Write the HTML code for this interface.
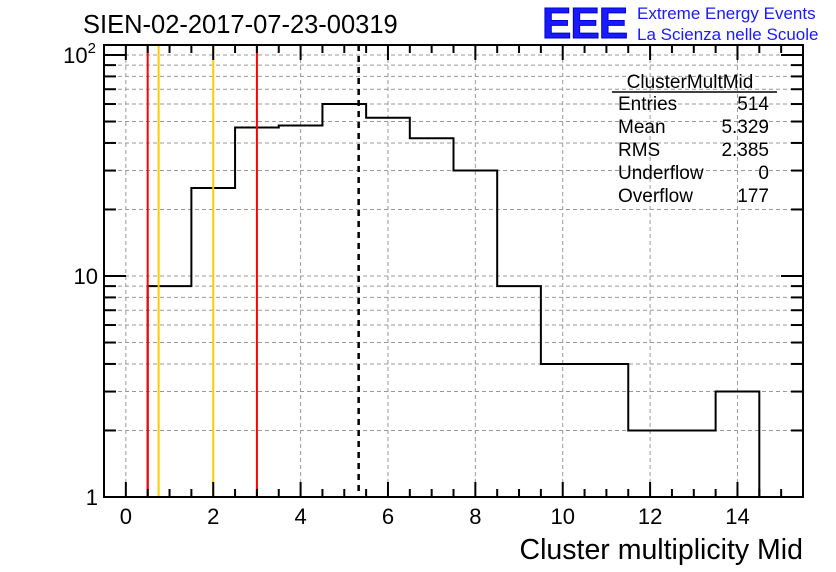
<!DOCTYPE html>
<html><head><meta charset="utf-8"><style>
body{margin:0;background:#fff;}
svg{display:block;font-family:"Liberation Sans",sans-serif;}
</style></head><body>
<svg id="c" width="836" height="572">
<text x="83" y="33" font-size="25.5">SIEN-02-2017-07-23-00319</text>
<text x="542" y="38" font-size="44" font-weight="bold" fill="#1a1aff" stroke="#0000cc" stroke-width="1" letter-spacing="-1">EEE</text>
<text x="637" y="19" font-size="17" fill="#1a1aff">Extreme Energy Events</text>
<text x="637" y="40" font-size="17" fill="#1a1aff">La Scienza nelle Scuole</text>
<g id="grid"></g><g id="marks"></g><g id="axes"></g>
<g font-size="19">
<text x="690" y="88" text-anchor="middle">ClusterMultMid</text>
<line x1="612" y1="92" x2="777" y2="92" stroke="#000" stroke-width="1.5"/>
<text x="618" y="110">Entries</text><text x="769" y="110" text-anchor="end">514</text>
<text x="618" y="133">Mean</text><text x="769" y="133" text-anchor="end">5.329</text>
<text x="618" y="156">RMS</text><text x="769" y="156" text-anchor="end">2.385</text>
<text x="618" y="179">Underflow</text><text x="769" y="179" text-anchor="end">0</text>
<text x="618" y="202">Overflow</text><text x="769" y="202" text-anchor="end">177</text>
</g>
<text x="803" y="559" font-size="28.5" text-anchor="end">Cluster multiplicity Mid</text>
</svg>
<script>
const binLow=[-0.5,0.5,1.5,2.5,3.5,4.5,5.5,6.5,7.5,8.5,9.5,10.5,11.5,12.5,13.5];
const counts=[0,9,25,47,48,60,52,42,30,9,4,4,2,2,3];
const redLines=[0.5,3.0];
const orangeLines=[0.75,2.0];
const meanValue=5.329;
const xTicks=[0,2,4,6,8,10,12,14];
const yTicks=[1,10,100];
const L=104,R=803,T=45,B=497;
const xmin=-0.5,xmax=15.5;
const X=v=>L+(v-xmin)/(xmax-xmin)*(R-L);
const Y=v=>497-221*Math.log10(v);
const ns="http://www.w3.org/2000/svg";
function mk(t,a,p){const e=document.createElementNS(ns,t);for(const k in a)e.setAttribute(k,a[k]);p.appendChild(e);return e;}
const grid=document.getElementById('grid'),marks=document.getElementById('marks'),axes=document.getElementById('axes');
xTicks.forEach(v=>{const g=mk('line',{x1:X(v),x2:X(v),y1:T,y2:B,stroke:'#999','stroke-dasharray':'4,3'},grid);

});
for(let d=1;d<=100;d*=10)for(let m=1;m<10;m++){const v=d*m;if(Y(v)<T)break;if(v===1)continue;
const g=mk('line',{x1:L,x2:R,y1:Y(v),y2:Y(v),stroke:'#999','stroke-dasharray':'4,3'},grid);

}
let d='';let started=false;
binLow.forEach((lo,i)=>{const c=counts[i];if(c<=0)return;const x0=X(lo),x1=X(lo+1),y=Y(c);
if(!started){d+=`M${x0},${B}L${x0},${y}`;started=true;}else d+=`L${x0},${y}`;d+=`L${x1},${y}`;
if(i===binLow.length-1||counts[i+1]<=0)d+=`L${x1},${B}`;});
const h=mk('path',{d:d,fill:'none',stroke:'#000','stroke-width':2},marks);


redLines.forEach(v=>{const l=mk('line',{x1:X(v),x2:X(v),y1:T,y2:B,stroke:'#ff0000','stroke-width':2},marks);

});
orangeLines.forEach(v=>{const l=mk('line',{x1:X(v),x2:X(v),y1:T,y2:B,stroke:'#ffcc00','stroke-width':2},marks);

});
const ml=mk('line',{x1:X(meanValue),x2:X(meanValue),y1:T,y2:B,stroke:'#000','stroke-width':2.5,'stroke-dasharray':'6,5'},marks);


const fr=mk('rect',{x:L,y:T,width:R-L,height:B-T,fill:'none',stroke:'#000','stroke-width':2},axes);


for(let v=-0.5;v<=15.5;v+=0.5){const major=Math.abs(v%2)<1e-9;const len=major?15:8;
mk('line',{x1:X(v),x2:X(v),y1:B,y2:B-len,stroke:'#000','stroke-width':2},axes);
mk('line',{x1:X(v),x2:X(v),y1:T,y2:T+len,stroke:'#000','stroke-width':2},axes);}
xTicks.forEach(v=>{const t=mk('text',{x:X(v),y:B+27,'font-size':22,'text-anchor':'middle'},axes);t.textContent=v;

});
for(let dd=1;dd<=100;dd*=10)for(let m=1;m<10;m++){const v=dd*m;if(Y(v)<T)break;const len=m===1?22:12;
mk('line',{x1:L,x2:L+len,y1:Y(v),y2:Y(v),stroke:'#000','stroke-width':2},axes);
mk('line',{x1:R,x2:R-len,y1:Y(v),y2:Y(v),stroke:'#000','stroke-width':2},axes);}
const ylab=['1','10','10<tspan dy="-10" font-size="15">2</tspan>'];
yTicks.forEach((v,i)=>{const t=mk('text',{x:i===2?96:98,y:Y(v)+8,'font-size':22,'text-anchor':'end'},axes);t.innerHTML=ylab[i];

});
</script>
</body></html>
